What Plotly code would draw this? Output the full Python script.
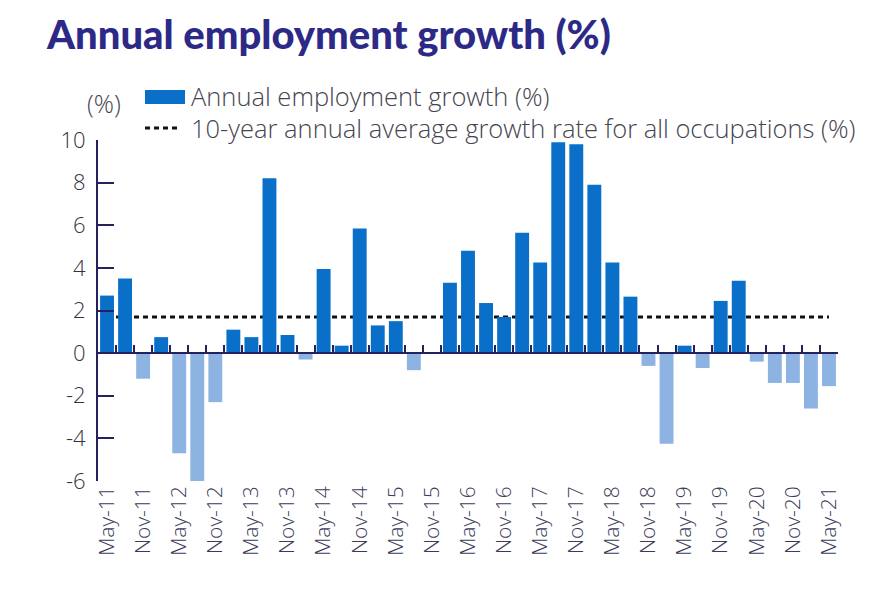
import plotly.graph_objects as go

# ---------------- data ----------------
periods = [
    "May-11", "Aug-11", "Nov-11", "Feb-12", "May-12", "Aug-12", "Nov-12", "Feb-13",
    "May-13", "Aug-13", "Nov-13", "Feb-14", "May-14", "Aug-14", "Nov-14", "Feb-15",
    "May-15", "Aug-15", "Nov-15", "Feb-16", "May-16", "Aug-16", "Nov-16", "Feb-17",
    "May-17", "Aug-17", "Nov-17", "Feb-18", "May-18", "Aug-18", "Nov-18", "Feb-19",
    "May-19", "Aug-19", "Nov-19", "Feb-20", "May-20", "Aug-20", "Nov-20", "Feb-21",
    "May-21",
]
growth = [
    2.7, 3.5, -1.2, 0.75, -4.7, -6.15, -2.3, 1.1,
    0.75, 8.2, 0.85, -0.3, 3.95, 0.35, 5.85, 1.3,
    1.5, -0.8, 0.0, 3.3, 4.8, 2.35, 1.7, 5.65,
    4.25, 9.9, 9.8, 7.9, 4.25, 2.65, -0.6, -4.25,
    0.35, -0.7, 2.45, 3.4, -0.4, -1.4, -1.4, -2.6,
    -1.55,
]
avg_growth = 1.7
tick_labels = periods[::2]
y_ticks = [-6, -4, -2, 0, 2, 4, 6, 8, 10]
y_tick_text = ["-6", "-4", "-2", "0", "2", "4", "6", "8", "10"]

# ---------------- styles ----------------
POS = "#0a6fc8"
NEG = "#8db3e2"
NAVY = "#23225e"
TITLE = "#2c2a86"
TXT = "#45454f"
FONT = "'Open Sans', Lato, sans-serif"

Y_MIN, Y_MAX = -6, 10
zero_frac = (0 - Y_MIN) / (Y_MAX - Y_MIN)

# page body has an 8px margin; figure is sized so it fits the window
OFF = 8
W, H = 864, 592
L, R, T, B = 90, 34, 132, 119
pw, ph = W - L - R, H - T - B


def px_x(p):  # screen px -> paper
    return (p - OFF - L) / pw


def px_y(p):
    return (H - B - (p - OFF)) / ph


fig = go.Figure()

fig.add_trace(go.Bar(
    x=periods, y=growth,
    marker=dict(color=[POS if v >= 0 else NEG for v in growth], line=dict(width=0)),
    width=0.77,
    showlegend=False,
    hoverinfo="x+y",
))

# invisible helper trace so the zero-line axis is drawn
fig.add_trace(go.Scatter(x=[None], y=[None], xaxis="x2", showlegend=False, hoverinfo="skip"))

n = len(periods)
fig.update_layout(
    width=W, height=H,
    margin=dict(l=L, r=R, t=T, b=B, autoexpand=False),
    paper_bgcolor="white", plot_bgcolor="white",
    font=dict(family=FONT, color=TXT),
    xaxis=dict(
        type="category",
        range=[-0.5, n - 0.5],
        tickmode="array", tickvals=tick_labels, ticktext=tick_labels,
        tickangle=-90,
        tickfont=dict(size=21, color="#3c3c5a", family=FONT, weight=300),
        showline=False, showgrid=False, zeroline=False, ticks="",
        automargin=False,
    ),
    xaxis2=dict(
        overlaying="x", anchor="free", position=zero_frac,
        range=[-0.5, n - 0.5],
        tickmode="array", tickvals=[i - 0.5 for i in range(n + 1)],
        showticklabels=False,
        ticks="inside", ticklen=7, tickwidth=2, tickcolor=NAVY,
        showline=True, linecolor=NAVY, linewidth=2,
        showgrid=False, zeroline=False,
    ),
    yaxis=dict(
        range=[Y_MIN, Y_MAX],
        tickmode="array", tickvals=y_ticks, ticktext=y_tick_text,
        tickfont=dict(size=22, color="#333340", family=FONT, weight=300),
        ticks="inside", ticklen=16, tickwidth=2, tickcolor=NAVY,
        showline=True, linecolor=NAVY, linewidth=2,
        showgrid=False, zeroline=False,
        ticklabelstandoff=6,
        automargin=False,
    ),
    shapes=[
        dict(type="line", xref="x", yref="y", x0=periods[0], x1=periods[-1],
             y0=avg_growth, y1=avg_growth, layer="below",
             line=dict(color="#111111", width=3, dash="5px,4px")),
        # legend swatches
        dict(type="rect", xref="paper", yref="paper",
             x0=px_x(145), x1=px_x(185), y0=px_y(104), y1=px_y(90),
             fillcolor=POS, line=dict(width=0)),
        dict(type="line", xref="paper", yref="paper",
             x0=px_x(145), x1=px_x(181), y0=px_y(128), y1=px_y(128),
             line=dict(color="#111111", width=3, dash="5px,4px")),
    ],
    annotations=[
        dict(text="Annual employment growth (%)", xref="paper", yref="paper",
             x=px_x(44), y=px_y(34), xanchor="left", yanchor="middle", showarrow=False,
             font=dict(family="Lato, sans-serif", size=40, color=TITLE, weight=900)),
        dict(text="(%)", xref="paper", yref="paper",
             x=px_x(104), y=px_y(103), xanchor="center", yanchor="middle", showarrow=False,
             font=dict(size=25, color=TXT, weight=300)),
        dict(text="Annual employment growth (%)", xref="paper", yref="paper",
             x=px_x(189), y=px_y(96), xanchor="left", yanchor="middle", showarrow=False,
             font=dict(size=25.5, color=TXT, weight=300)),
        dict(text="10-year annual average growth rate for all occupations (%)",
             xref="paper", yref="paper",
             x=px_x(189), y=px_y(128), xanchor="left", yanchor="middle", showarrow=False,
             font=dict(size=25.5, color=TXT, weight=300)),
    ],
)

fig.write_html("out.html")
